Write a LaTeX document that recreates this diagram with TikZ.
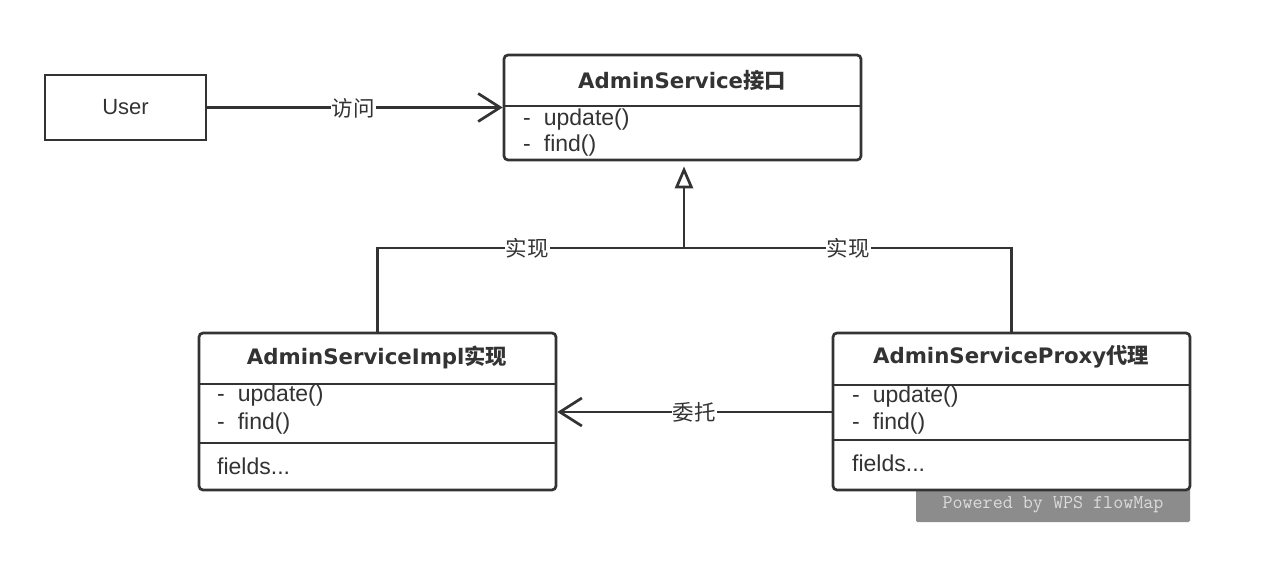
\documentclass[tikz,border=0pt]{standalone}
\usepackage{fontspec}
\setmainfont{Liberation Sans}
\newfontfamily\dejavu{DejaVu Sans}
\newfontfamily\cjk{Noto Sans CJK SC}
\usetikzlibrary{arrows.meta}
\definecolor{ink}{HTML}{333333}
\definecolor{wmbg}{HTML}{8C8C8C}
\definecolor{wmfg}{HTML}{DCDCDC}
\tikzset{
  classbox/.style={draw=ink, line width=2.7pt, rounded corners=4pt, fill=white, inner sep=0pt},
  userbox/.style={draw=ink, line width=2.7pt, fill=white, inner sep=0pt},
  divider/.style={draw=ink, line width=2.7pt},
  conn/.style={draw=ink, line width=2.7pt},
  title/.style={inner sep=0pt, text=ink, font=\dejavu\bfseries\fontsize{21.3}{25}\selectfont},
  member/.style={inner sep=0pt, anchor=west, text=ink, font=\fontsize{23}{26}\selectfont},
  lbl/.style={fill=white, inner sep=1pt, text=ink, font=\cjk\fontsize{21.5}{24}\selectfont},
  barb/.style={-{Straight Barb[length=22pt, width=28pt, line width=2.7pt]}},
  realize/.style={-{Triangle[open, length=22pt, width=18pt, line width=2.7pt, fill=white]}}
}
\newcommand{\cjkb}[1]{{\cjk\bfseries #1}}
\newcommand{\dashgap}{-\hspace{13pt}}
\begin{document}
\begin{tikzpicture}[x=1pt, y=-1pt]
\useasboundingbox (0,0) rectangle (1262,574);
\fill[white] (0,0) rectangle (1262,574);
% watermark
\node[fill=wmbg, minimum width=274pt, minimum height=34pt, inner sep=0pt, rounded corners=1.5pt, text=wmfg, font=\ttfamily\fontsize{19.5}{22}\selectfont] (wm) at (1053,505) {Powered by WPS flowMap};
% boxes
\node[userbox, minimum width=161pt, minimum height=65pt] (user) at (125.5,107.5) {};
\node[classbox, minimum width=357pt, minimum height=105pt] (svc) at (682.5,107.5) {};
\node[classbox, minimum width=357pt, minimum height=157pt] (impl) at (377.5,411.5) {};
\node[classbox, minimum width=357pt, minimum height=157pt] (proxy) at (1011.5,411.5) {};
% dividers
\coordinate (s1) at (0,106);
\draw[divider] (s1 -| svc.west) -- (s1 -| svc.east);
\coordinate (i1) at (0,384);
\coordinate (i2) at (0,443);
\draw[divider] (i1 -| impl.west) -- (i1 -| impl.east);
\draw[divider] (i2 -| impl.west) -- (i2 -| impl.east);
\coordinate (p1) at (0,385);
\coordinate (p2) at (0,440);
\draw[divider] (p1 -| proxy.west) -- (p1 -| proxy.east);
\draw[divider] (p2 -| proxy.west) -- (p2 -| proxy.east);
% texts
\node[inner sep=0pt, text=ink, font=\fontsize{22}{26}\selectfont] (usert) at (user.center) {User};
\node[title] (svct) at (682,80) {AdminService\cjkb{接口}};
\node[member] (svcu) at (523,120) {\dashgap update()};
\node[member] (svcf) at (523,146) {\dashgap find()};
\node[title] (implt) at (377,357) {AdminServiceImpl\cjkb{实现}};
\node[member] (implu) at (217,396) {\dashgap update()};
\node[member] (implf) at (217,424) {\dashgap find()};
\node[member] (implx) at (217,466) {fields...};
\node[title] (proxyt) at (1011,357) {AdminServiceProxy\cjkb{代理}};
\node[member] (proxyu) at (852,397) {\dashgap update()};
\node[member] (proxyf) at (852,424) {\dashgap find()};
\node[member] (proxyx) at (852,463) {fields...};
% connectors
\draw[conn, barb] (user.east) -- (user.east -| svc.west);
\node[lbl] (l1) at (353,108) {访问};
\coordinate (j) at (684,248);
\draw[conn] (impl.north) |- (j) -| (proxy.north);
\draw[conn, realize, shorten >=5pt] (j) -- (j |- svc.south);
\node[lbl] (l2) at (527,248) {实现};
\node[lbl] (l3) at (848,248) {实现};
\coordinate (d) at (0,412);
\draw[conn, barb] (d -| proxy.west) -- (d -| impl.east);
\node[lbl] (l4) at (694,412) {委托};
\end{tikzpicture}
\end{document}
